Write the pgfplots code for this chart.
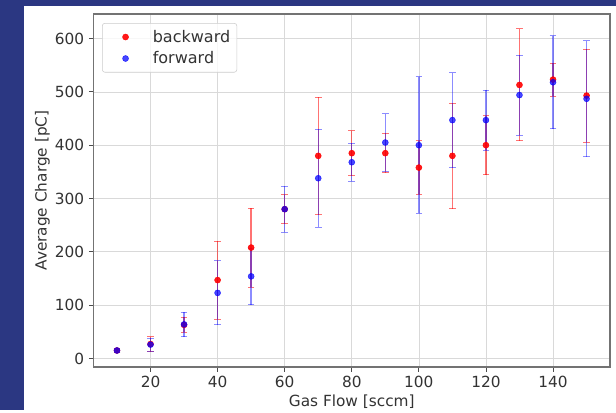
\documentclass[border=0pt]{standalone}
\usepackage{fontspec}
\setmainfont{DejaVu Sans}
\usepackage{pgfplots}
\pgfplotsset{compat=1.18}
\usepackage{pgfplotstable}
\definecolor{bgnavy}{HTML}{2B3782}
\definecolor{bkred}{HTML}{FF0000}
\definecolor{fwblue}{HTML}{0000FF}
\definecolor{txt}{HTML}{333333}

% gas flow, mean charge, error
\pgfplotstableread{
x y e
10 15 3
20 27 14
30 63 14
40 147 73
50 208 74
60 280 27
70 380 110
80 385 42
90 385 37
100 358 50
110 380 99
120 400 55
130 513 105
140 523 31
150 493 87
}\backward

\pgfplotstableread{
x y e
10 15 3
20 26 12
30 64 23
40 123 60
50 154 53
60 280 43
70 338 92
80 368 36
90 405 54
100 400 128
110 447 89
120 447 56
130 494 75
140 518 87
150 487 109
}\forward

\begin{document}
\begin{tikzpicture}
% slide background (1px = 0.75pt, y downwards negative)
\fill[bgnavy] (0pt,0pt) rectangle (462pt,-307.5pt);
\fill[white] (18pt,-4.5pt) rectangle (462pt,-307.5pt);
\begin{axis}[
  at={(70.125pt,-275.25pt)}, anchor=south west,
  scale only axis,
  width=387.4pt, height=264.75pt,
  xmin=3, xmax=157,
  ymin=-16, ymax=646,
  xtick={20,40,...,140},
  ytick={0,100,...,600},
  tick pos=left,
  tick align=outside,
  major tick length=3.5pt,
  every tick/.style={black!70, line width=0.6pt},
  axis line style={black!55, line width=0.9pt},
  grid=major,
  major grid style={black!15, line width=0.5pt},
  font=\fontsize{11.5}{13}\selectfont,
  tick label style={text=txt},
  /pgf/number format/assume math mode=true,
  xlabel={Gas Flow [sccm]},
  ylabel={Average Charge [pC]},
  label style={text=txt},
  xlabel style={yshift=2pt},
  ylabel style={yshift=-3pt},
  legend style={at={(0.0165,0.9745)}, anchor=north west,
    draw=black!20, rounded corners=2pt, fill=white, fill opacity=0.8,
    text opacity=1, inner xsep=3pt, inner ysep=3pt,
    font=\fontsize{12}{14}\selectfont, row sep=1.5pt, text=txt},
  legend cell align=left,
  legend image code/.code={\path (0pt,0pt) (32.5pt,0pt);
    \fill[#1] (14.25pt,0pt) circle (2.25pt);},
]
\addplot[only marks, mark=*, mark size=2.25pt, bkred, fill opacity=0.9, draw opacity=0.9,
  error bars/.cd, y dir=both, y explicit,
  error bar style={draw=bkred, opacity=0.55, line width=1pt},
  error mark options={draw=bkred, opacity=0.55, mark size=2.5pt, line width=0.7pt, rotate=90}]
  table[x=x, y=y, y error=e] {\backward};
\addlegendentry{backward}
\addplot[only marks, mark=*, mark size=2.25pt, fwblue, fill opacity=0.72, draw opacity=0.72,
  error bars/.cd, y dir=both, y explicit,
  error bar style={draw=fwblue, opacity=0.45, line width=1pt},
  error mark options={draw=fwblue, opacity=0.45, mark size=2.5pt, line width=0.7pt, rotate=90}]
  table[x=x, y=y, y error=e] {\forward};
\addlegendentry{forward}
\end{axis}
\end{tikzpicture}
\end{document}
